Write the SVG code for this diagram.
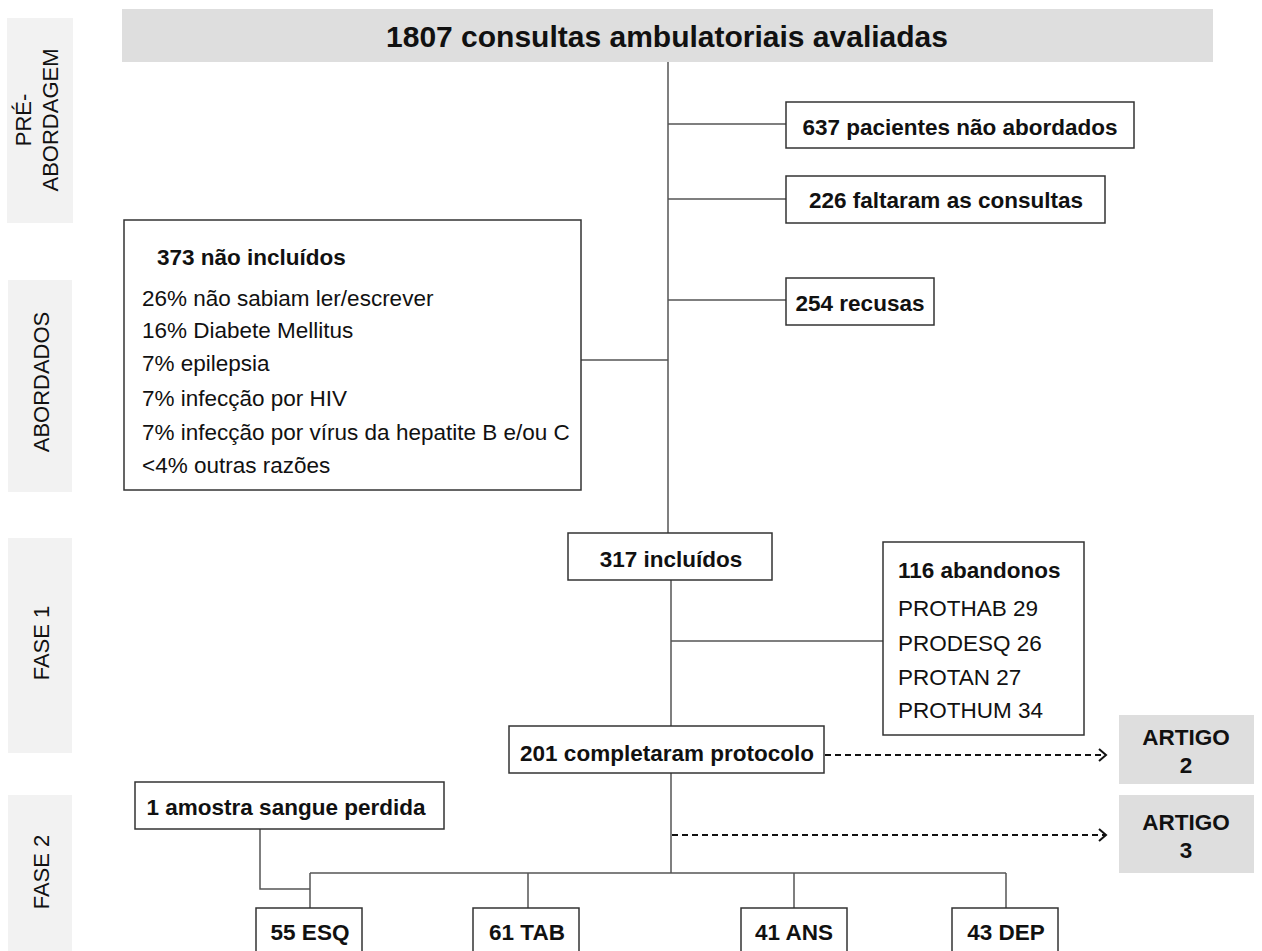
<svg xmlns="http://www.w3.org/2000/svg" width="1262" height="951" viewBox="0 0 1262 951">
<style>
  text { font-family: "Liberation Sans", Arial, Helvetica, sans-serif; fill: #111; }
  .side { fill: #f2f2f2; }
  .sidetxt { font-size: 22px; text-anchor: middle; }
  .head { fill: #dedede; }
  .box { fill: #fff; stroke: #333; stroke-width: 1.5; }
  .b { font-size: 22.5px; font-weight: bold; }
  .c { text-anchor: middle; }
  .r { font-size: 22.5px; }
  .ln { fill: none; stroke: #555; stroke-width: 1.5; }
  .dash { fill: none; stroke: #111; stroke-width: 2; stroke-dasharray: 6 4; }
</style>
<defs>
  <marker id="chev" markerWidth="12" markerHeight="16" refX="9" refY="7" orient="auto" markerUnits="userSpaceOnUse">
    <path d="M2,1 L9,7 L2,13" fill="none" stroke="#111" stroke-width="2"/>
  </marker>
</defs>
<rect width="1262" height="951" fill="#fff"/>

<g id="phase-labels">
  <rect class="side" x="7" y="18" width="66" height="205"/>
  <text class="sidetxt" transform="translate(31 120) rotate(-90)" x="0" y="0">PRÉ-</text>
  <text class="sidetxt" transform="translate(58 120) rotate(-90)" x="0" y="0">ABORDAGEM</text>
  <rect class="side" x="8" y="280" width="64" height="212"/>
  <text class="sidetxt" transform="translate(49 382) rotate(-90)" x="0" y="0">ABORDADOS</text>
  <rect class="side" x="8" y="538" width="64" height="215"/>
  <text class="sidetxt" transform="translate(49 643) rotate(-90)" x="0" y="0">FASE 1</text>
  <rect class="side" x="8" y="795" width="64" height="160"/>
  <text class="sidetxt" transform="translate(49 872) rotate(-90)" x="0" y="0">FASE 2</text>
</g>

<g id="connectors">
  <line class="ln" x1="668" y1="62" x2="668" y2="533"/>
  <line class="ln" x1="668" y1="124" x2="786" y2="124"/>
  <line class="ln" x1="668" y1="199" x2="786" y2="199"/>
  <line class="ln" x1="668" y1="300" x2="786" y2="300"/>
  <line class="ln" x1="581" y1="360" x2="668" y2="360"/>
  <line class="ln" x1="671" y1="580" x2="671" y2="726"/>
  <line class="ln" x1="671" y1="641" x2="883" y2="641"/>
  <line class="ln" x1="671" y1="773" x2="671" y2="873"/>
  <line class="ln" x1="310" y1="873" x2="1006" y2="873"/>
  <line class="ln" x1="310" y1="873" x2="310" y2="908"/>
  <line class="ln" x1="528" y1="873" x2="528" y2="908"/>
  <line class="ln" x1="794" y1="873" x2="794" y2="908"/>
  <line class="ln" x1="1006" y1="873" x2="1006" y2="908"/>
  <polyline class="ln" points="260,829 260,889 310,889"/>
  <line class="dash" x1="825" y1="755" x2="1106" y2="755" marker-end="url(#chev)"/>
  <line class="dash" x1="672" y1="835" x2="1106" y2="835" marker-end="url(#chev)"/>
</g>

<g id="n-total">
  <rect class="head" x="122" y="9" width="1091" height="53"/>
  <text class="b c" x="667" y="47" style="font-size:30px">1807 consultas ambulatoriais avaliadas</text>
</g>
<g id="n-637">
  <rect class="box" x="786" y="102" width="348" height="46"/>
  <text class="b c" x="960" y="135">637 pacientes não abordados</text>
</g>
<g id="n-226">
  <rect class="box" x="786" y="176" width="319" height="47"/>
  <text class="b c" x="946" y="208">226 faltaram as consultas</text>
</g>
<g id="n-254">
  <rect class="box" x="786" y="278" width="148" height="47"/>
  <text class="b c" x="860" y="311">254 recusas</text>
</g>
<g id="n-373">
  <rect class="box" x="124" y="220" width="457" height="270"/>
  <text class="b" x="157" y="265">373 não incluídos</text>
  <text class="r" x="142" y="306">26% não sabiam ler/escrever</text>
  <text class="r" x="142" y="338">16% Diabete Mellitus</text>
  <text class="r" x="142" y="371">7% epilepsia</text>
  <text class="r" x="142" y="406">7% infecção por HIV</text>
  <text class="r" x="142" y="440">7% infecção por vírus da hepatite B e/ou C</text>
  <text class="r" x="142" y="473">&lt;4% outras razões</text>
</g>
<g id="n-317">
  <rect class="box" x="568" y="533" width="204" height="47"/>
  <text class="b c" x="671" y="567">317 incluídos</text>
</g>
<g id="n-116">
  <rect class="box" x="883" y="542" width="201" height="193"/>
  <text class="b" x="898" y="578">116 abandonos</text>
  <text class="r" x="898" y="616">PROTHAB 29</text>
  <text class="r" x="898" y="651">PRODESQ 26</text>
  <text class="r" x="898" y="685">PROTAN 27</text>
  <text class="r" x="898" y="718">PROTHUM 34</text>
</g>
<g id="n-201">
  <rect class="box" x="509" y="726" width="315" height="47"/>
  <text class="b c" x="667" y="761">201 completaram protocolo</text>
</g>
<g id="n-artigo2">
  <rect class="head" x="1119" y="715" width="135" height="69"/>
  <text class="b c" x="1186" y="745">ARTIGO</text>
  <text class="b c" x="1186" y="773">2</text>
</g>
<g id="n-artigo3">
  <rect class="head" x="1119" y="795" width="135" height="78"/>
  <text class="b c" x="1186" y="830">ARTIGO</text>
  <text class="b c" x="1186" y="858">3</text>
</g>
<g id="n-amostra">
  <rect class="box" x="135" y="782" width="309" height="47"/>
  <text class="b c" x="286" y="815">1 amostra sangue perdida</text>
</g>
<g id="n-esq">
  <rect class="box" x="256" y="908" width="106" height="60"/>
  <text class="b c" x="310" y="940">55 ESQ</text>
</g>
<g id="n-tab">
  <rect class="box" x="473" y="908" width="106" height="60"/>
  <text class="b c" x="527" y="940">61 TAB</text>
</g>
<g id="n-ans">
  <rect class="box" x="741" y="908" width="106" height="60"/>
  <text class="b c" x="794" y="940">41 ANS</text>
</g>
<g id="n-dep">
  <rect class="box" x="952" y="908" width="106" height="60"/>
  <text class="b c" x="1006" y="940">43 DEP</text>
</g>
</svg>
